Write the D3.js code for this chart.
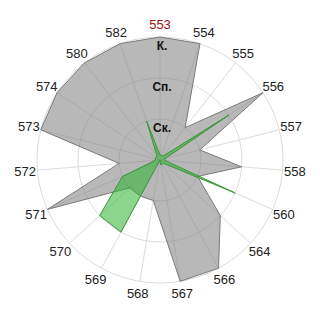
<!DOCTYPE html>
<html>
<head>
<meta charset="utf-8">
<script src="https://d3js.org/d3.v7.min.js"></script>
<style>
  body { margin: 0; background: #fff; }
  svg { display: block; font-family: "Liberation Sans", Arial, sans-serif; }
</style>
</head>
<body>
<svg width="320" height="320"></svg>
<script>
// data
// ----------------------------------
var categories = ['553', '554', '555', '556', '557', '558', '560', '564', '566', '567',
                  '568', '569', '570', '571', '572', '573', '574', '580', '582'];
var grayValues  = [3, 3, 1, 3, 1, 2, 1, 2, 3, 3, 1, 1, 1, 3, 1, 3, 3, 3, 3];
var greenValues = [0.12, 0.12, 0.12, 2, 0.12, 0.12, 2, 0.12, 0.12, 0.12,
                   0, 2, 2, 1, 0.12, 0.12, 0.12, 0.12, 1];
var levels = [1, 2, 3];
var levelLabels = ['Ск.', 'Сп.', 'К.'];
var highlighted = '553';

// setup
// ----------------------------------
var svg = d3.select('svg');
var cx = 160, cy = 160, R = 123;
var chart = svg.append('g').attr('transform', 'translate(' + cx + ',' + cy + ')');

var r = d3.scaleLinear().domain([0, 3]).range([0, R]);
var angle = d3.scalePoint()
    .domain(d3.range(categories.length + 1))
    .range([0, 2 * Math.PI]);

function px(i, v) { return r(v) * Math.sin(angle(i)); }
function py(i, v) { return -r(v) * Math.cos(angle(i)); }

// grid
// ----------------------------------
var grid = chart.append('g').classed('grid', true);
grid.selectAll('circle')
    .data(levels)
    .enter().append('circle')
    .attr('r', d => r(d))
    .style('fill', 'none')
    .style('stroke', '#dcdcdc');

grid.selectAll('line')
    .data(categories)
    .enter().append('line')
    .attr('x1', 0).attr('y1', 0)
    .attr('x2', (d, i) => px(i, 3))
    .attr('y2', (d, i) => py(i, 3))
    .style('stroke', '#dcdcdc');

// series
// ----------------------------------
var radar = d3.lineRadial()
    .angle((d, i) => angle(i))
    .radius(d => r(d))
    .curve(d3.curveLinearClosed);

chart.append('path')
    .attr('d', radar(grayValues))
    .style('fill', 'rgb(128,128,128)')
    .style('fill-opacity', 0.56)
    .style('stroke', '#7a7a7a')
    .style('stroke-width', 1);

chart.append('path')
    .attr('d', radar(greenValues))
    .style('fill', 'rgb(46,178,46)')
    .style('fill-opacity', 0.55)
    .style('stroke', '#3a963a')
    .style('stroke-width', 1);

// labels
// ----------------------------------
chart.append('g').selectAll('text')
    .data(categories)
    .enter().append('text')
    .attr('x', (d, i) => px(i, 3.3))
    .attr('y', (d, i) => py(i, 3.3))
    .attr('dy', '0.36em')
    .attr('text-anchor', 'middle')
    .style('font-size', '13px')
    .style('fill', d => d === highlighted ? '#a01010' : '#222')
    .text(d => d);

chart.append('g').selectAll('text')
    .data(levels)
    .enter().append('text')
    .attr('x', 2)
    .attr('y', d => -r(d) + 13)
    .attr('text-anchor', 'middle')
    .style('font-size', '12px')
    .style('font-weight', 'bold')
    .style('fill', '#111')
    .text((d, i) => levelLabels[i]);
</script>
</body>
</html>
